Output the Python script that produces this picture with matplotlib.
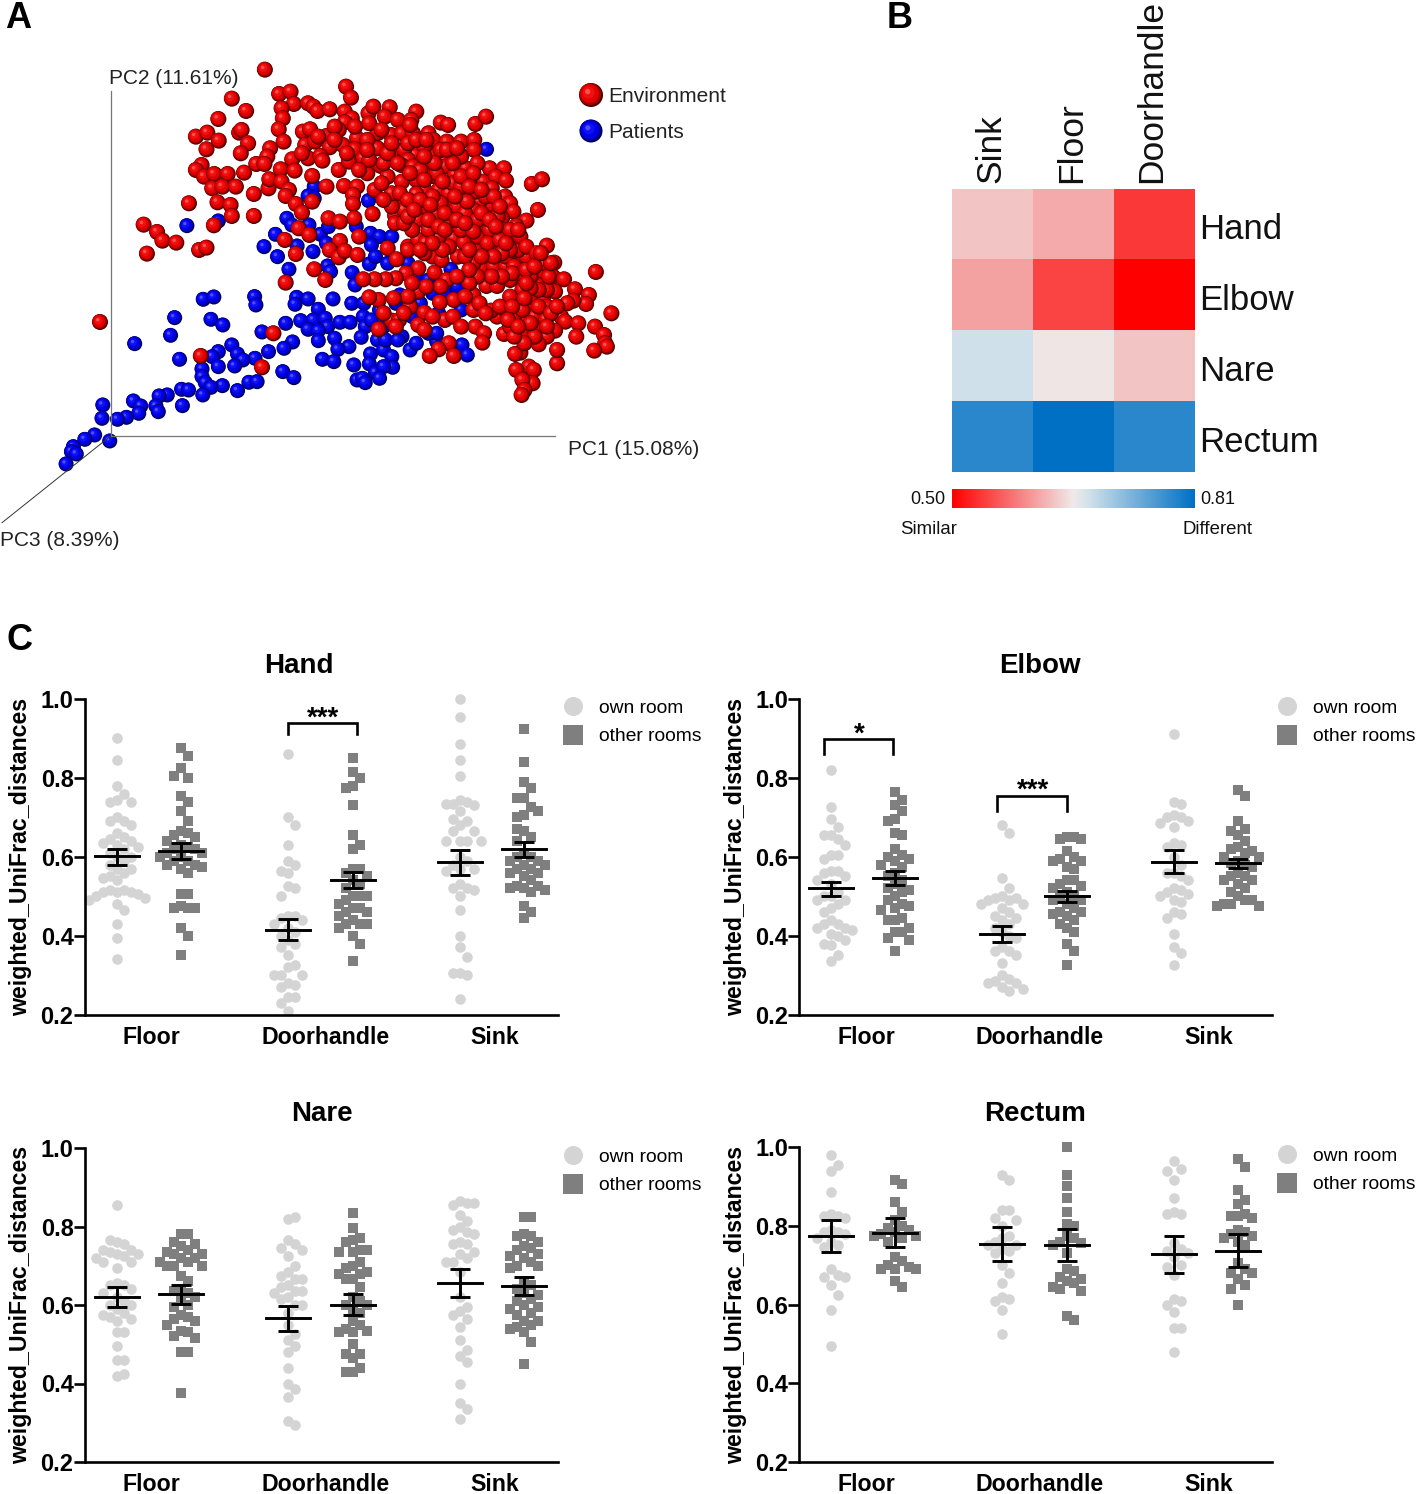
import numpy as np
import matplotlib
matplotlib.use("Agg")
import matplotlib.pyplot as plt
from matplotlib.colors import LinearSegmentedColormap, to_rgb
from matplotlib.lines import Line2D

plt.rcParams["font.family"] = ["Liberation Sans", "DejaVu Sans"]

W, H = 1418, 1494

# panel A, PCoA projection
env_pts = [
    (649,59),(848,110),(860,143),(568,146),(684,132),(712,125),(720,162),(603,183),(535,207),(690,175),(693,205),(755,160),
    (768,170),(778,183),(808,178),(845,185),(862,205),(845,217),(903,190),(915,170),(955,172),(943,200),(975,210),(1020,185),
    (1008,210),(1080,218),(1098,225),(1165,222),(1191,200),(480,260),(508,248),(536,272),(586,248),(592,240),(608,280),(506,298),
    (590,310),(683,238),(695,275),(662,295),(655,320),(628,342),(648,342),(716,328),(688,358),(722,362),(742,245),(760,238),
    (748,285),(772,275),(800,258),(830,240),(808,292),(840,285),(755,325),(785,318),(790,332),(875,265),(870,298),(890,325),
    (925,295),(962,310),(958,255),(985,250),(1012,250),(1050,250),(1062,270),(1095,275),(1130,275),(1162,270),(1162,300),(1125,312),
    (1090,328),(1058,318),(1018,315),(990,300),(494,345),(480,360),(500,380),(525,372),(558,372),(598,368),(520,415),(545,410),
    (578,410),(622,432),(658,415),(660,388),(690,395),(533,457),(565,465),(568,498),(622,498),(463,460),(352,524),(385,546),
    (398,572),(432,578),(360,611),(488,600),(506,593),(524,526),(708,420),(700,438),(725,462),(740,488),(765,378),(765,455),
    (800,410),(830,360),(855,335),(843,408),(875,410),(865,435),(865,462),(868,505),(900,370),(933,348),(950,380),(918,420),
    (805,505),(833,515),(913,492),(968,497),(1000,330),(983,345),(1012,350),(1050,345),(1090,350),(1115,375),(1142,355),(1140,430),
    (1060,378),(1020,390),(985,395),(1040,420),(1075,420),(1020,432),(988,445),(1098,460),(1070,490),(1025,510),(990,480),(960,470),
    (968,520),(1040,470),(1100,515),(1150,525),(1195,480),(1200,465),(1175,455),(1185,395),(1200,355),(1235,355),(1215,380),(1240,392),
    (1205,415),(1238,440),(1250,460),(1258,485),(1290,512),(1265,528),(1303,402),(1328,388),(1318,480),(1230,505),(732,535),(758,555),
    (698,570),(833,573),(725,612),(808,600),(830,622),(845,603),(876,615),(770,658),(797,690),(700,698),(950,595),(880,560),
    (1000,590),(972,628),(1025,570),(1043,578),(1060,620),(1082,630),(1025,655),(995,670),(1065,668),(970,685),(945,688),(918,688),
    (890,688),(1095,690),(1112,565),(1137,577),(1122,620),(1165,600),(1183,555),(1210,568),(1228,605),(1262,605),(1265,570),(1242,572),
    (1180,650),(1210,650),(1240,650),(1278,645),(1305,625),(1340,587),(1358,638),(1322,665),(1355,680),(1382,688),(1460,666),(1409,718),
    (1443,735),(1436,762),(1498,790),(1405,752),(1360,725),(1330,745),(1318,705),(1278,690),(1270,755),(1296,768),(1250,690),(1192,708),
    (1218,708),(1160,735),(1112,750),(1078,757),(1025,725),(1005,770),(1040,788),(928,750),(905,742),(960,812),(978,810),(928,838),
    (1025,825),(1090,810),(1160,780),(1165,830),(1218,800),(1203,782),(1278,815),(1310,800),(1338,808),(1375,800),(1385,815),(1417,820),
    (1458,830),(1480,855),(1412,860),(1360,842),(1340,860),(1320,883),(1365,940),(1365,900),(1278,850),(1235,852),(1186,850),(1182,878),
    (1100,880),(1075,898),(1053,918),(1112,918),(1275,908),(1262,912),(1296,950),(1308,960),(1265,960),(1305,1000),(1280,990),(1285,1020),
    (1278,1035),(1483,880),(1487,890),(1456,902),(245,816),(670,850),(492,918),(642,952),(1100,430),(1130,470),(1160,480),(1220,500),
    (1190,520),(1130,540),(1170,560),(1200,600),(1160,640),(1140,620),(1100,590),(1075,560),(1050,540),(1010,540),(990,520),(1000,600),
    (1040,610),(1240,620),(1260,650),(1290,620),(1300,680),(1280,720),(1250,740),(1240,780),(1260,800),(1300,740),(1340,770),(1310,840),
    (1340,720),(1250,830),(1280,780),(1120,470),(1080,460),(1140,490),(1170,510),(1230,540),(1270,600),(1250,600),(1200,540),(1190,440),
    (1110,400),(1150,390),(1170,340),(1130,320),(1080,300),(1040,290),(1000,280),(1020,270),(1070,370),(1110,340),(1030,360),(960,430),
    (935,400),(980,430),(940,450),(1060,440),(1000,450),(1030,450),
    (925,250),(900,270),(940,340),(905,330),(880,360),(950,310),(975,340),(1005,370),(1040,390),(1085,395),(1130,410),(1165,425),
    (1210,440),(1225,470),(1180,490),(1145,455),(1115,440),(1090,490),(1055,465),(1000,500),(1015,480),(1050,510),(1075,530),(1120,510),
    (1160,545),(1195,580),(1225,570),(1250,540),(1275,560),(1290,590),(1315,610),(1335,640),(1345,680),(1320,720),(1300,715),(1275,670),
    (1255,670),(1230,680),(1205,680),(1170,680),(1150,700),(1140,740),(1175,760),(1190,790),(1225,770),(1255,770),(1285,745),(1320,770),
    (1350,790),(1310,860),(1285,880),(1260,860),(1300,820),(1245,810),(1270,830),(1340,830),(1390,760),(1365,770),(1150,660),(1120,680),
    (1080,710),(1045,710),(1010,700),(1000,740),(965,745),(940,790),(990,790),(1060,800),(1110,800),(1130,830),(1040,840),(970,830),
    (1230,610),(1210,620),(1180,620),(1150,600),(1085,600),(1060,580),(1030,600),(1090,540),(1140,520),(1200,510),(1215,530),(1270,540),
    (1240,580),(1290,660),(1310,650),(1290,700),(1350,640),(1325,610),(1130,380),(1160,370),(1065,340),(1040,320),(1095,300),(960,280),
    (900,300),(870,230),(820,230),(780,260),(740,310),(820,270),(850,310),(905,220),(935,240),(1005,225),(1045,270),(1120,295),
    (1150,410),(1180,420),
]
patient_pts = [
    (1192,298),(458,527),(535,513),(770,410),(755,438),(770,445),(903,452),(703,505),(715,525),(757,525),(675,553),(785,553),
    (805,530),(873,530),(647,590),(680,620),(728,588),(767,605),(800,580),(708,658),(803,648),(810,665),(863,668),(870,705),
    (905,642),(908,550),(930,560),(910,585),(920,620),(960,560),(1000,640),(950,640),(498,748),(524,741),(624,740),(627,765),
    (727,742),(755,747),(723,763),(780,778),(816,747),(862,760),(892,760),(428,803),(517,808),(546,825),(418,856),(330,881),
    (642,846),(700,820),(737,812),(768,810),(797,805),(803,830),(833,817),(858,817),(890,800),(895,830),(755,838),(780,842),
    (820,865),(855,890),(885,862),(780,872),(717,876),(696,895),(828,898),(658,905),(790,928),(818,935),(568,885),(535,905),
    (582,912),(625,925),(595,930),(440,928),(520,920),(535,950),(575,948),(495,957),(495,980),(503,998),(545,1007),(517,1012),
    (610,997),(630,995),(693,965),(720,983),(497,1035),(582,1022),(445,1018),(462,1020),(410,1035),(390,1038),(447,1067),(382,1068),
    (388,1085),(327,1053),(345,1068),(340,1090),(310,1102),(288,1108),(252,1065),(250,1105),(232,1155),(208,1168),(180,1190),(175,1205),
    (187,1212),(162,1242),(269,1173),(867,945),(908,912),(905,942),(925,870),(940,900),(960,920),(962,952),(920,968),(940,950),
    (930,985),(875,990),(888,985),(895,998),(985,860),(1005,900),(1020,880),(1070,875),(1132,885),(1145,915),(970,760),(980,735),
    (1020,685),(1050,690),(1060,730),(1105,658),(1120,710),(1090,730),(1150,720),(1030,760),(1075,790),(1010,800),(1050,850),(1070,850),
    (1130,780),(930,780),(940,830),(910,810),(945,870),(975,870),
]

# panel B
heat_cols = ["Sink", "Floor", "Doorhandle"]
heat_rows = ["Hand", "Elbow", "Nare", "Rectum"]
heat_vals = [[0.630, 0.613, 0.538],
             [0.607, 0.546, 0.500],
             [0.676, 0.652, 0.630],
             [0.782, 0.810, 0.782]]

# panel C, own room / other rooms for each site
hand_floor_own = [.90,.845,.78,.76,.745,.74,.74,.70,.69,.69,.68,.66,.65,.645,.64,.635,.63,.625,.62,.61,.60,.60,.59,.58,.57,.57,.56,.55,.545,.54,.515,.515,.51,.51,.51,.505,.50,.495,.49,.48,.465,.43,.395,.34]
hand_floor_other = [.875,.855,.825,.80,.805,.755,.74,.715,.69,.665,.66,.655,.65,.64,.63,.625,.62,.62,.61,.61,.60,.60,.59,.59,.58,.58,.575,.57,.56,.505,.505,.475,.47,.47,.47,.42,.40,.35]
hand_door_own = [.86,.70,.68,.63,.59,.58,.565,.56,.525,.52,.50,.45,.45,.445,.44,.43,.42,.41,.40,.39,.38,.37,.35,.325,.32,.30,.30,.30,.28,.275,.27,.245,.245,.23,.21]
hand_door_other = [.85,.815,.80,.78,.775,.73,.655,.63,.62,.57,.57,.56,.55,.54,.53,.52,.50,.50,.50,.49,.48,.47,.47,.46,.46,.45,.44,.43,.43,.43,.42,.40,.38,.335]
hand_sink_own = [1.0,.955,.885,.845,.805,.745,.74,.735,.73,.735,.715,.69,.695,.68,.665,.665,.64,.64,.64,.64,.60,.59,.58,.57,.57,.565,.53,.52,.52,.515,.50,.465,.40,.37,.345,.305,.30,.305,.24]
hand_sink_other = [.925,.84,.79,.775,.75,.75,.725,.705,.70,.715,.665,.65,.67,.64,.61,.60,.60,.59,.59,.58,.58,.57,.57,.56,.56,.55,.54,.525,.525,.52,.52,.515,.51,.475,.445,.46]
hand_mean = [.601, .614, .415, .541, .586, .620]
hand_lo = [.580, .594, .388, .520, .553, .600]
hand_hi = [.620, .635, .443, .562, .618, .637]

elbow_floor_own = [.82,.725,.695,.675,.655,.655,.645,.63,.605,.605,.595,.565,.565,.56,.55,.54,.53,.51,.50,.50,.49,.49,.48,.47,.46,.44,.43,.43,.42,.42,.415,.405,.40,.38,.375,.39,.35,.335]
elbow_floor_other = [.765,.745,.73,.715,.695,.69,.66,.655,.62,.605,.60,.595,.59,.58,.575,.56,.55,.54,.53,.52,.515,.51,.50,.49,.48,.475,.47,.465,.445,.44,.44,.42,.41,.41,.395,.39,.36]
elbow_door_own = [.68,.66,.545,.52,.50,.495,.495,.49,.49,.48,.48,.47,.46,.45,.445,.44,.43,.42,.41,.40,.395,.37,.36,.36,.35,.33,.30,.29,.285,.28,.28,.27,.265,.26]
elbow_door_other = [.65,.65,.645,.645,.615,.60,.595,.59,.59,.575,.57,.54,.54,.53,.525,.52,.51,.50,.50,.49,.49,.48,.47,.46,.46,.455,.45,.44,.43,.42,.41,.38,.36,.325]
elbow_sink_own = [.91,.74,.735,.705,.70,.70,.69,.685,.675,.635,.63,.625,.60,.58,.56,.56,.55,.54,.52,.515,.51,.505,.50,.49,.485,.46,.455,.445,.405,.37,.355,.325]
elbow_sink_other = [.77,.755,.69,.67,.665,.655,.64,.625,.62,.615,.61,.60,.60,.59,.585,.58,.575,.56,.55,.55,.54,.54,.53,.52,.51,.50,.49,.49,.48,.48,.475,.475]
elbow_mean = [.520, .547, .405, .500, .587, .584]
elbow_lo = [.500, .529, .385, .486, .558, .571]
elbow_hi = [.537, .563, .424, .514, .617, .595]

nare_floor_own = [.855,.76,.755,.765,.74,.74,.735,.73,.73,.725,.72,.71,.71,.695,.655,.65,.65,.64,.63,.62,.61,.60,.60,.59,.58,.575,.57,.565,.56,.53,.53,.495,.46,.46,.42,.425]
nare_floor_other = [.78,.78,.76,.755,.75,.74,.735,.73,.73,.72,.72,.71,.71,.70,.70,.70,.675,.66,.64,.635,.63,.62,.61,.60,.595,.575,.57,.565,.56,.55,.535,.53,.52,.515,.48,.48,.375]
nare_door_own = [.82,.825,.765,.755,.745,.74,.725,.70,.685,.675,.665,.665,.65,.645,.635,.635,.63,.62,.615,.60,.60,.58,.55,.525,.51,.495,.48,.44,.40,.385,.365,.305,.295]
nare_door_other = [.835,.795,.77,.765,.76,.74,.74,.735,.735,.71,.70,.695,.685,.68,.68,.665,.665,.645,.62,.61,.60,.60,.59,.58,.56,.55,.54,.535,.53,.53,.50,.475,.475,.465,.44,.43,.43]
nare_sink_own = [.865,.86,.855,.86,.83,.815,.80,.79,.785,.78,.76,.755,.755,.735,.73,.72,.71,.71,.685,.62,.595,.585,.575,.565,.545,.51,.485,.47,.455,.40,.35,.335,.31]
nare_sink_other = [.825,.825,.78,.775,.775,.76,.75,.745,.74,.73,.725,.72,.71,.70,.70,.695,.66,.65,.64,.63,.625,.615,.61,.60,.595,.59,.58,.575,.56,.56,.55,.545,.54,.53,.505,.45]
nare_mean = [.620, .627, .566, .600, .656, .649]
nare_lo = [.594, .603, .535, .575, .621, .626]
nare_hi = [.645, .652, .597, .627, .691, .672]

rectum_floor_own = [.98,.955,.94,.885,.83,.825,.825,.82,.79,.785,.785,.78,.77,.76,.75,.745,.69,.675,.67,.67,.65,.625,.585,.495]
rectum_floor_other = [.915,.905,.86,.835,.815,.80,.795,.79,.785,.78,.775,.775,.77,.76,.72,.71,.70,.695,.69,.69,.69,.66,.645]
rectum_door_own = [.93,.915,.84,.84,.82,.815,.80,.775,.77,.76,.75,.75,.74,.735,.73,.70,.68,.655,.62,.615,.61,.585,.525]
rectum_door_other = [1.0,.93,.90,.87,.835,.805,.80,.775,.77,.76,.755,.75,.73,.69,.685,.67,.665,.66,.655,.645,.64,.635,.57,.56]
rectum_sink_own = [.965,.945,.94,.915,.87,.835,.83,.83,.755,.74,.735,.73,.72,.70,.695,.675,.615,.61,.60,.58,.54,.54,.48]
rectum_sink_other = [.97,.95,.89,.865,.855,.83,.825,.825,.82,.79,.785,.78,.775,.77,.76,.75,.705,.69,.68,.68,.665,.65,.64,.60]
rectum_mean = [.773, .782, .754, .752, .727, .736]
rectum_lo = [.733, .746, .711, .711, .679, .695]
rectum_hi = [.814, .820, .797, .793, .775, .780]

sites = ["Floor", "Doorhandle", "Sink"]
yticks = [0.2, 0.4, 0.6, 0.8, 1.0]

fig = plt.figure(figsize=(W / 100, H / 100), dpi=100)


def px_axes(left, top, right, bottom):
    return fig.add_axes([left / W, 1 - bottom / H, (right - left) / W, (bottom - top) / H])


def fig_text(x, y, s, **kw):
    return fig.text(x / W, 1 - y / H, s, **kw)


def shade(col, dark, mid, light):
    base = np.array(to_rgb(col))
    return [np.array(to_rgb(dark)), base * 0.72, base, mid, light]


def spheres(ax, pts, d, cols):
    # one collection with the layers of each ball in turn, so overlaps stay right
    radii = [1.0, 0.92, 0.78, 0.5, 0.22]
    shift = [0.0, -0.03, -0.06, -0.1, -0.14]
    xs, ys, ss, cs = [], [], [], []
    for px, py in pts:
        for r, o, c in zip(radii, shift, cols):
            xs.append(px + o * d / 0.408)
            ys.append(py + o * d / 0.333)
            ss.append((d * 0.72 * r) ** 2)
            cs.append(c)
    ax.scatter(xs, ys, s=ss, c=cs, linewidths=0, clip_on=False)


# A
ax_a = px_axes(0, 50, 640, 550)
ax_a.set_xlim(0, 1568)
ax_a.set_ylim(1500, 0)
ax_a.axis("off")
ax_a.plot([271, 271], [122, 1158], color="#777777", lw=0.9)
ax_a.plot([271, 1360], [1158, 1158], color="#777777", lw=0.9)
ax_a.plot([271, 5], [1158, 1418], color="#333333", lw=0.7)
red_cols = shade("#e00000", "#480000", np.array(to_rgb("#f01010")), np.array(to_rgb("#ff5050")))
blue_cols = shade("#0000e6", "#000050", np.array(to_rgb("#1010f5")), np.array(to_rgb("#5050ff")))
spheres(ax_a, patient_pts, 15, blue_cols)
spheres(ax_a, env_pts, 16, red_cols)
ax_a.text(267, 87, "PC2 (11.61%)", fontsize=15, color="#222222", va="center")
ax_a.text(1392, 1198, "PC1 (15.08%)", fontsize=15, color="#222222", va="center")
ax_a.text(0, 1470, "PC3 (8.39%)", fontsize=15, color="#222222", va="center", clip_on=False)
spheres(ax_a, [(1448, 135)], 24, red_cols)
spheres(ax_a, [(1448, 243)], 23, blue_cols)
ax_a.text(1490, 141, "Environment", fontsize=15, color="#222222", va="center")
ax_a.text(1490, 249, "Patients", fontsize=15, color="#222222", va="center")

# B
heat_cmap = LinearSegmentedColormap.from_list(
    "sim", [(0, "#ff0000"), (0.5, "#f0eaea"), (0.569, "#cfe0ea"), (1, "#0070c4")])
ax_b = px_axes(952, 189, 1194, 472)
ax_b.imshow(heat_vals, cmap=heat_cmap, vmin=0.50, vmax=0.81, aspect="auto", interpolation="nearest")
ax_b.xaxis.tick_top()
ax_b.yaxis.tick_right()
ax_b.set_xticks([-0.02, 0.98, 1.98], heat_cols, rotation=90, fontsize=25.5, color="#111111")
ax_b.set_yticks([0.03, 1.03, 2.03, 3.03], heat_rows, fontsize=25, color="#111111")
ax_b.tick_params(length=0, pad=4)
for sp in ax_b.spines.values():
    sp.set_visible(False)

ax_cb = px_axes(952, 489, 1194, 508)
ax_cb.imshow(np.linspace(0, 1, 256)[None, :], cmap=heat_cmap, aspect="auto")
ax_cb.axis("off")
fig_text(945, 500, "0.50", fontsize=13, ha="right", va="center", color="#111111")
fig_text(1200, 500, "0.81", fontsize=13, ha="left", va="center", color="#111111")
fig_text(900, 530, "Similar", fontsize=13.4, ha="left", va="center", color="#111111")
fig_text(1253, 530, "Different", fontsize=13.4, ha="right", va="center", color="#111111")

# panel letters
fig_text(5, 18, "A", fontsize=26, fontweight="bold", va="center")
fig_text(887, 18, "B", fontsize=26, fontweight="bold", va="center")
fig_text(6, 641, "C", fontsize=26, fontweight="bold", va="center")


def swarm(values, center, step=7.0, gap=0.027):
    # spread points sideways so that they do not sit on each other
    placed = []
    xs = []
    for v in values:
        k = 0
        while True:
            cands = [0] if k == 0 else [k, -k]
            if v * 1000 % 2 > 1:
                cands = cands[::-1]
            hit = None
            for c in cands:
                if all(not (pc == c and abs(pv - v) < gap) for pc, pv in placed):
                    hit = c
                    break
            if hit is not None:
                placed.append((hit, v))
                xs.append(center + hit * step)
                break
            k += 1
    return xs


def panel(box, title, title_xy, ylab_x, groups, means, lows, highs, brackets):
    ax = px_axes(*box)
    ax.set_xlim(0, 473)
    ax.set_ylim(0.2, 1.0)
    pos = [32, 96, 203, 268, 375, 439]
    for i, vals in enumerate(groups):
        own = i % 2 == 0
        ax.scatter(swarm(vals, pos[i]), vals, s=58 if own else 50, marker="o" if own else "s",
                   color="#d4d4d4" if own else "#7f7f7f", linewidths=0, clip_on=False, zorder=2)
        ax.errorbar(pos[i], means[i], yerr=[[means[i] - lows[i]], [highs[i] - means[i]]],
                    color="black", lw=2.1, capsize=7.5, capthick=2.1, zorder=4, clip_on=False)
        ax.plot([pos[i] - 22, pos[i] + 22], [means[i], means[i]], color="black", lw=2.1, zorder=4)
    for xa, xb, top, drop, stars in brackets:
        ax.plot([xa, xa, xb, xb], [drop, top, top, drop], color="black", lw=1.9,
                solid_joinstyle="miter", zorder=4)
        ax.text((xa + xb) / 2 + 1, top - 0.021, stars, ha="center", va="bottom", fontsize=20, fontweight="bold")
    ax.spines["top"].set_visible(False)
    ax.spines["right"].set_visible(False)
    ax.spines["left"].set_linewidth(1.9)
    ax.spines["bottom"].set_linewidth(1.9)
    ax.set_yticks(yticks, [f"{t:.1f}" for t in yticks], fontsize=17, fontweight="bold")
    ax.set_xticks([67, 241, 410], sites, fontsize=16.7, fontweight="bold")
    ax.tick_params(axis="y", length=8, width=1.9, pad=0)
    ax.tick_params(axis="x", length=0, pad=8)
    fig_text(title_xy[0], title_xy[1] + 2, title, fontsize=20, fontweight="bold", ha="center", va="center")
    fig_text(ylab_x, (box[1] + box[3]) / 2, "weighted_UniFrac_distances", fontsize=16.7, fontweight="bold",
             rotation=90, ha="center", va="center")
    handles = [
        Line2D([], [], marker="o", ls="none", ms=13.7, color="#d4d4d4", mew=0, label="own room"),
        Line2D([], [], marker="s", ls="none", ms=13.7, color="#7f7f7f", mew=0, label="other rooms"),
    ]
    ax.legend(handles=handles, loc="upper left", bbox_to_anchor=(1.012, 0.998), frameon=False, fontsize=13.9,
              borderpad=0, borderaxespad=0, handlelength=1, handletextpad=0.85, labelspacing=0.55)
    return ax


panel((84.7, 699, 557.7, 1014.5), "Hand", (299, 664), 21,
      [hand_floor_own, hand_floor_other, hand_door_own, hand_door_other, hand_sink_own, hand_sink_other],
      hand_mean, hand_lo, hand_hi, [(203.3, 272, .939, .912, "***")])
panel((799, 699, 1272, 1014.5), "Elbow", (1040, 664), 736,
      [elbow_floor_own, elbow_floor_other, elbow_door_own, elbow_door_other, elbow_sink_own, elbow_sink_other],
      elbow_mean, elbow_lo, elbow_hi, [(25, 94, .898, .861, "*"), (198, 268, .755, .717, "***")])
panel((84.7, 1148, 557.7, 1462), "Nare", (322, 1112), 21,
      [nare_floor_own, nare_floor_other, nare_door_own, nare_door_other, nare_sink_own, nare_sink_other],
      nare_mean, nare_lo, nare_hi, [])
panel((799, 1147, 1272, 1462), "Rectum", (1035, 1112), 736,
      [rectum_floor_own, rectum_floor_other, rectum_door_own, rectum_door_other, rectum_sink_own, rectum_sink_other],
      rectum_mean, rectum_lo, rectum_hi, [])

fig.savefig("out.png", dpi=100)
